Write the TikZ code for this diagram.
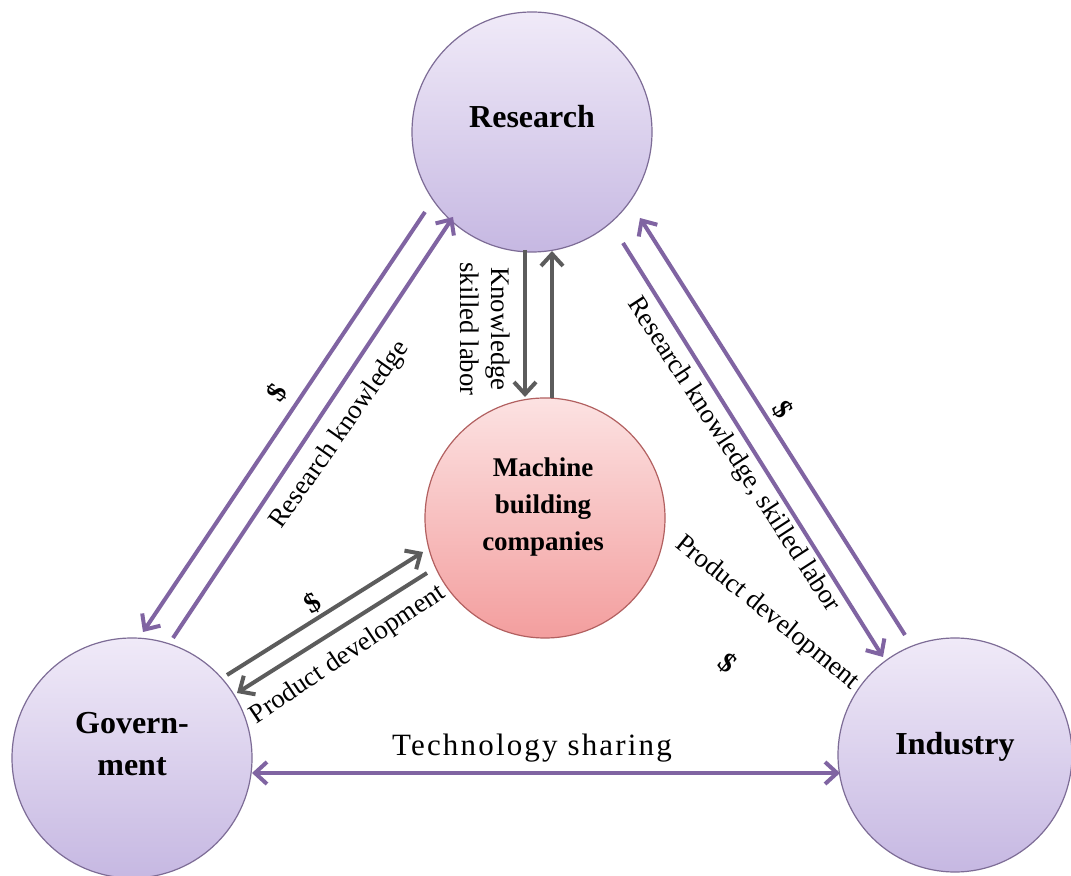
\documentclass[tikz,border=0pt]{standalone}
\usepackage{fontspec}
\setmainfont{Liberation Serif}
\newfontfamily\trackedserif[LetterSpace=7]{Liberation Serif}
\usetikzlibrary{arrows.meta}
\definecolor{flowpurple}{RGB}{128,100,162}
\definecolor{flowgray}{RGB}{92,92,92}
\definecolor{lavtop}{RGB}{240,234,248}
\definecolor{lavbot}{RGB}{198,184,226}
\definecolor{lavedge}{RGB}{125,108,150}
\definecolor{pinktop}{RGB}{252,226,226}
\definecolor{pinkbot}{RGB}{243,158,158}
\definecolor{pinkedge}{RGB}{178,96,96}
\begin{document}
\begin{tikzpicture}[x=0.5pt,y=-0.5pt,
  actor/.style={circle,minimum size=120pt,inner sep=0pt,draw=lavedge,line width=0.6pt,
    top color=lavtop,bottom color=lavbot},
  core/.style={actor,draw=pinkedge,top color=pinktop,bottom color=pinkbot},
  actortext/.style={inner sep=0pt,align=center,font=\fontsize{16}{21}\selectfont\bfseries},
  coretext/.style={inner sep=0pt,align=center,font=\fontsize{13.5}{18.5}\selectfont\bfseries},
  barb/.tip={Straight Barb[length=6pt,width=11pt]},
  pline/.style={draw=flowpurple,line width=2pt,-barb},
  gline/.style={pline,draw=flowgray},
  lbl/.style={inner sep=0pt,align=center,font=\fontsize{13.4}{15.5}\selectfont},
  dollar/.style={inner sep=0pt,font=\fontsize{14}{16}\selectfont\bfseries}
]
\useasboundingbox (0,0) rectangle (1071,876);
\fill[white] (0,0) rectangle (1071,876);

% the four actors
\node[actor] (res) at (532,132) {};
\node[actor] (gov) at (132,758) {};
\node[actor,minimum size=117pt] (ind) at (955,755) {};
\node[core] (mbc) at (545,518) {};
\node[actortext] (res-t) at (532,117) {Research};
\node[actortext] (gov-t) at (132,744) {Govern-\\ment};
\node[actortext] (ind-t) at (955,747) {Industry};
\node[coretext] (mbc-t) at (543,507) {Machine\\building\\companies};

% end points of the parallel flows
\coordinate (rg-a) at (425,212); \coordinate (rg-b) at (143,632);
\coordinate (gr-a) at (173,638); \coordinate (gr-b) at (453,217);
\coordinate (ri-a) at (623,243); \coordinate (ri-b) at (883,657);
\coordinate (ir-a) at (905,635); \coordinate (ir-b) at (640,218);
\coordinate (rm-a) at (525,250); \coordinate (rm-b) at (525,397);
\coordinate (mr-a) at (552,398); \coordinate (mr-b) at (552,251);
\coordinate (gm-a) at (227,675); \coordinate (gm-b) at (423,552);
\coordinate (mg-a) at (427,573); \coordinate (mg-b) at (237,693);
\coordinate (ts-a) at (252,773); \coordinate (ts-b) at (840,773);

% research <-> government
\draw[pline] (rg-a) -- (rg-b);
\draw[pline] (gr-a) -- (gr-b);
% research <-> industry
\draw[pline] (ri-a) -- (ri-b);
\draw[pline] (ir-a) -- (ir-b);
% research <-> machine building companies
\draw[gline] (rm-a) -- (rm-b);
\draw[gline] (mr-a) -- (mr-b);
% government <-> machine building companies
\draw[gline] (gm-a) -- (gm-b);
\draw[gline] (mg-a) -- (mg-b);
% government <-> industry
\draw[pline,barb-barb] (ts-a) -- (ts-b);

% flow labels
\node[dollar,rotate=56] (d-rg) at (277,393) {\$};
\node[lbl,rotate=55] (l-rg) at (340,435) {Research knowledge};
\node[lbl,rotate=-90] (l-rm) at (485,329) {Knowledge\\skilled labor};
\node[dollar,rotate=32] (d-gm) at (313,603) {\$};
\node[lbl,rotate=34] (l-mg) at (348,655) {Product development};
\node[dollar,rotate=-57.5] (d-ir) at (783,410) {\$};
\node[lbl,rotate=-57] (l-ri) at (733,455) {Research knowledge, skilled labor};
\node[lbl,rotate=-39] (l-mi) at (767,613) {Product development};
\node[dollar,rotate=-40] (d-mi) at (728,663) {\$};
\node[lbl,font=\fontsize{15.5}{18}\selectfont\trackedserif] (l-ts) at (532,748) {Technology sharing};
\end{tikzpicture}
\end{document}
